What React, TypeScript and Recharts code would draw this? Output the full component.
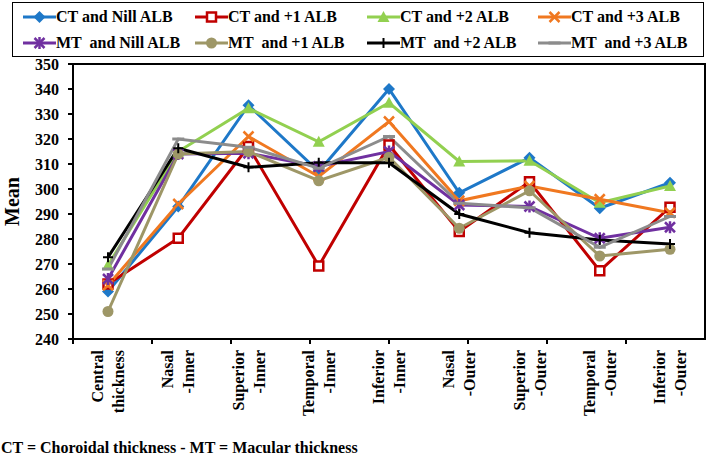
import React from 'react';
import { LineChart, Line, XAxis, YAxis } from 'recharts';

const categories = [
  'Central thickness',
  'Nasal -Inner',
  'Superior -Inner',
  'Temporal -Inner',
  'Inferior -Inner',
  'Nasal -Outer',
  'Superior -Outer',
  'Temporal -Outer',
  'Inferior -Outer',
];

const ctNill = [259, 293, 333.5, 307, 340, 298.5, 312.5, 292.3, 302.5];
const ctPlus1 = [262, 280.3, 317, 269.2, 317.6, 283, 302.9, 267.3, 292.7];
const ctPlus2 = [269.5, 315, 332.3, 318.9, 334.5, 311, 311.3, 294.5, 301.2];
const ctPlus3 = [261.5, 294, 321, 305, 327, 295.3, 301.2, 295.9, 290.5];
const mtNill = [264, 314, 314.3, 309, 315, 293.6, 293, 280.3, 284.7];
const mtPlus1 = [251, 314, 315, 303.3, 312.7, 284.3, 299.3, 273.2, 275.9];
const mtPlus2 = [272.7, 316.3, 308.7, 310.5, 310.5, 290, 282.5, 279.6, 278];
const mtPlus3 = [268, 320, 316.7, 308.3, 321, 294.3, 292.5, 276.7, 289];

const yTicks = [240, 250, 260, 270, 280, 290, 300, 310, 320, 330, 340, 350];
const boundaryTicks = [0, 1, 2, 3, 4, 5, 6, 7, 8, 9];

const FONT = "'Liberation Serif', 'DejaVu Serif', Tinos, Times, serif";

const SERIES = [
  { key: 'ctNill', name: 'CT and Nill ALB', color: '#1E78C8', shape: 'diamond', values: ctNill },
  { key: 'ctPlus1', name: 'CT and +1 ALB', color: '#C00000', shape: 'square', values: ctPlus1 },
  { key: 'ctPlus2', name: 'CT and +2 ALB', color: '#92D050', shape: 'triangle', values: ctPlus2 },
  { key: 'ctPlus3', name: 'CT and +3 ALB', color: '#F07820', shape: 'cross', values: ctPlus3 },
  { key: 'mtNill', name: 'MT  and Nill ALB', color: '#7030A0', shape: 'star', values: mtNill },
  { key: 'mtPlus1', name: 'MT  and +1 ALB', color: '#9E9767', shape: 'circle', values: mtPlus1 },
  { key: 'mtPlus2', name: 'MT  and +2 ALB', color: '#000000', shape: 'plus', values: mtPlus2 },
  { key: 'mtPlus3', name: 'MT  and +3 ALB', color: '#8C8C8C', shape: 'dash', values: mtPlus3 },
];

const data = categories.map((name, i) => {
  const row: any = { name };
  SERIES.forEach((s) => {
    row[s.key] = s.values[i];
  });
  return row;
});

function Marker({ cx, cy, shape, color }: any) {
  if (cx == null || cy == null) return null;
  switch (shape) {
    case 'diamond':
      return <polygon points={`${cx},${cy - 6} ${cx + 6},${cy} ${cx},${cy + 6} ${cx - 6},${cy}`} fill={color} />;
    case 'square':
      return <rect x={cx - 4.5} y={cy - 4.5} width={9} height={9} fill="#fff" stroke={color} strokeWidth={2.5} />;
    case 'triangle':
      return <polygon points={`${cx},${cy - 6} ${cx + 6},${cy + 5} ${cx - 6},${cy + 5}`} fill={color} />;
    case 'cross':
      return (
        <g stroke={color} strokeWidth={2.5}>
          <line x1={cx - 5} y1={cy - 5} x2={cx + 5} y2={cy + 5} />
          <line x1={cx - 5} y1={cy + 5} x2={cx + 5} y2={cy - 5} />
        </g>
      );
    case 'star':
      return (
        <g stroke={color} strokeWidth={2.5}>
          <line x1={cx - 5} y1={cy - 5} x2={cx + 5} y2={cy + 5} />
          <line x1={cx - 5} y1={cy + 5} x2={cx + 5} y2={cy - 5} />
          <line x1={cx} y1={cy - 6} x2={cx} y2={cy + 6} />
        </g>
      );
    case 'circle':
      return <circle cx={cx} cy={cy} r={5.5} fill={color} />;
    case 'plus':
      return (
        <g stroke={color} strokeWidth={2}>
          <line x1={cx - 5} y1={cy} x2={cx + 5} y2={cy} />
          <line x1={cx} y1={cy - 5} x2={cx} y2={cy + 5} />
        </g>
      );
    case 'dash':
      return <line x1={cx - 6} y1={cy} x2={cx + 6} y2={cy} stroke={color} strokeWidth={3} />;
    default:
      return null;
  }
}

function CategoryTick(props: any) {
  const { x, y, payload } = props;
  const [first, ...rest] = String(payload.value).split(' ');
  return (
    <g transform={`translate(${x},${y}) rotate(-90)`}>
      <text textAnchor="end" style={{ fontFamily: FONT }} fontWeight="bold" fontSize={16} fill="#000">
        <tspan x={-6} y={-5}>{first}</tspan>
        <tspan x={-6} y={16}>{rest.join(' ')}</tspan>
      </text>
    </g>
  );
}

const legendCols = [22, 194, 366, 537];
const legendRows = [16, 42];

function LegendBox() {
  return (
    <div
      style={{
        position: 'absolute',
        left: 12,
        top: 2,
        width: 690,
        height: 53,
        border: '1.5px solid #000',
      }}
    >
      {SERIES.map((s, i) => {
        const col = legendCols[i % 4] - 12;
        const row = legendRows[Math.floor(i / 4)] - 2;
        return (
          <div key={s.key} style={{ position: 'absolute', left: col, top: row - 10, height: 20, display: 'flex', alignItems: 'center' }}>
            <svg width={33} height={20} style={{ display: 'block' }}>
              <line x1={0} y1={10} x2={33} y2={10} stroke={s.color} strokeWidth={3} />
              <Marker cx={16.5} cy={10} shape={s.shape} color={s.color} />
            </svg>
            <span style={{ fontFamily: FONT, fontWeight: 'bold', fontSize: 16, whiteSpace: 'pre', color: '#000', lineHeight: '20px' }}>
              {s.name}
            </span>
          </div>
        );
      })}
    </div>
  );
}

const frame = { stroke: '#000', strokeWidth: 2 };
const noTick = () => <g />;

export default function App() {
  return (
    <div style={{ position: 'absolute', left: 0, top: 0, width: 708, height: 462, background: '#fff', fontFamily: FONT }}>
      <LegendBox />
      <LineChart width={708} height={462} data={data} margin={{ top: 64, right: 3, bottom: 0, left: 0 }} style={{ fontFamily: FONT }}>
        <XAxis
          xAxisId="axisB"
          dataKey="name"
          height={118}
          interval={0}
          padding={{ left: 35, right: 35 }}
          axisLine={false}
          tickLine={false}
          tickSize={0}
          tickMargin={0}
          tick={<CategoryTick />}
        />
        <XAxis
          xAxisId="axisA"
          type="number"
          domain={[0, 9]}
          allowDataOverflow
          ticks={boundaryTicks}
          height={5}
          tickSize={5}
          axisLine={frame}
          tickLine={frame}
          tick={noTick}
        />
        <YAxis
          yAxisId="y"
          domain={[240, 350]}
          ticks={yTicks}
          interval={0}
          width={73}
          tickSize={5}
          tickMargin={9}
          axisLine={frame}
          tickLine={frame}
          tick={{ fill: '#000', fontFamily: FONT, fontWeight: 'bold', fontSize: 16 }}
          label={{
            value: 'Mean',
            angle: -90,
            position: 'insideLeft',
            offset: 12,
            style: { textAnchor: 'middle', fill: '#000', fontFamily: FONT, fontWeight: 'bold', fontSize: 20 },
          }}
        />
        {SERIES.map((s) => (
          <Line
            key={s.key}
            xAxisId="axisB"
            yAxisId="y"
            dataKey={s.key}
            name={s.name}
            stroke={s.color}
            strokeWidth={3}
            isAnimationActive={false}
            activeDot={false}
            dot={(p: any) => <Marker key={`${s.key}-${p.index}`} cx={p.cx} cy={p.cy} shape={s.shape} color={s.color} />}
          />
        ))}
      </LineChart>
      {/* top and right edges of the plot frame */}
      <div
        style={{
          position: 'absolute',
          left: 72,
          top: 63,
          width: 634,
          height: 277,
          boxSizing: 'border-box',
          borderTop: '2px solid #000',
          borderRight: '2px solid #000',
          pointerEvents: 'none',
        }}
      />
      <div
        style={{
          position: 'absolute',
          left: 1,
          top: 439,
          fontFamily: FONT,
          fontWeight: 'bold',
          fontSize: 16,
          lineHeight: '18px',
          color: '#000',
          whiteSpace: 'nowrap',
        }}
      >
        CT = Choroidal thickness - MT = Macular thickness
      </div>
    </div>
  );
}
